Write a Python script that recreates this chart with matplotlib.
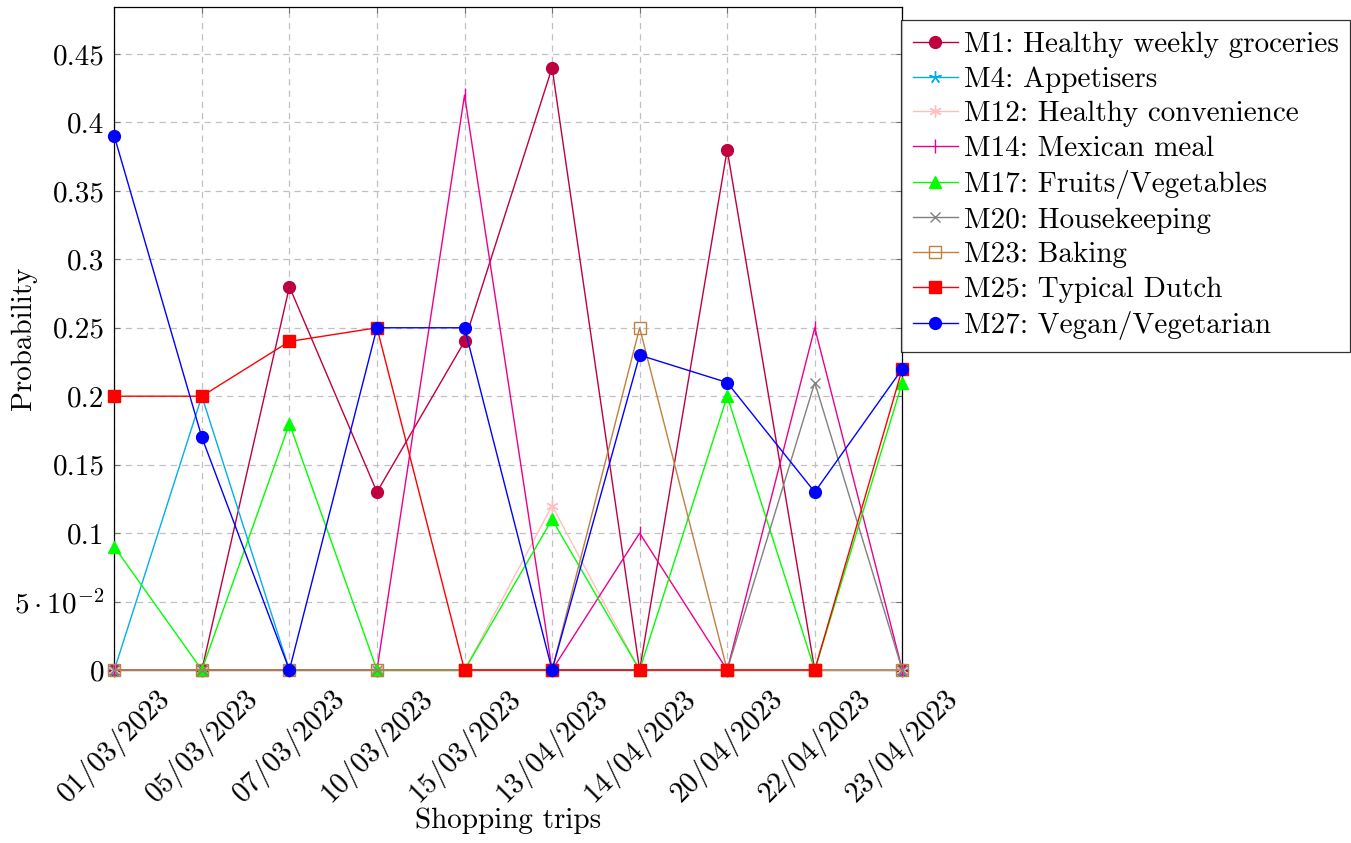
import matplotlib
matplotlib.use("Agg")
import matplotlib.pyplot as plt

plt.rcParams['font.family'] = ['cmr10', 'DejaVu Serif']
plt.rcParams['mathtext.fontset'] = 'cm'
plt.rcParams['axes.unicode_minus'] = False
plt.rcParams['axes.formatter.use_mathtext'] = True

dates = ["01/03/2023", "05/03/2023", "07/03/2023", "10/03/2023", "15/03/2023",
         "13/04/2023", "14/04/2023", "20/04/2023", "22/04/2023", "23/04/2023"]

m1 = [0, 0, 0.28, 0.13, 0.24, 0.44, 0, 0.38, 0, 0]
m4 = [0, 0.20, 0, 0, 0, 0, 0, 0, 0, 0]
m12 = [0, 0, 0, 0, 0, 0.12, 0, 0, 0, 0]
m14 = [0, 0, 0, 0, 0.42, 0, 0.10, 0, 0.25, 0]
m17 = [0.09, 0, 0.18, 0, 0, 0.11, 0, 0.20, 0, 0.21]
m20 = [0, 0, 0, 0, 0, 0, 0, 0, 0.21, 0]
m23 = [0, 0, 0, 0, 0, 0, 0.25, 0, 0, 0]
m25 = [0.20, 0.20, 0.24, 0.25, 0, 0, 0, 0, 0, 0.22]
m27 = [0.39, 0.17, 0, 0.25, 0.25, 0, 0.23, 0.21, 0.13, 0.22]

labels = ["M1: Healthy weekly groceries", "M4: Appetisers", "M12: Healthy convenience",
          "M14: Mexican meal", "M17: Fruits/Vegetables", "M20: Housekeeping",
          "M23: Baking", "M25: Typical Dutch", "M27: Vegan/Vegetarian"]
series = [m1, m4, m12, m14, m17, m20, m23, m25, m27]

ytick_vals = [0, 0.05, 0.1, 0.15, 0.2, 0.25, 0.3, 0.35, 0.4, 0.45]
ytick_labels = ["0", r"$5\cdot10^{-2}$", "0.1", "0.15", "0.2", "0.25", "0.3", "0.35", "0.4", "0.45"]

styles = [
    dict(color='#BF0040', marker='o', ms=8.5, mfc='#BF0040', mec='#BF0040'),
    dict(color='#00AEEF', marker=(5, 2, 0), ms=9, mec='#00AEEF'),
    dict(color='#FFBFBF', marker=(6, 2, 0), ms=9, mec='#FFBFBF'),
    dict(color='#EC008C', marker='|', ms=10, mec='#EC008C'),
    dict(color='#00FF00', marker='^', ms=8.5, mfc='#00FF00', mec='#00FF00'),
    dict(color='#808080', marker='x', ms=7, mec='#808080'),
    dict(color='#BF8040', marker='s', ms=8, mfc='none', mec='#BF8040'),
    dict(color='#FF0000', marker='s', ms=8.5, mfc='#FF0000', mec='#FF0000'),
    dict(color='#0000FF', marker='o', ms=8.5, mfc='#0000FF', mec='#0000FF'),
]

FS = 21

fig = plt.figure(figsize=(13.51, 8.43), dpi=100)
L, R, T, B = 114.3, 902.3, 7.3, 670.0
ax = fig.add_axes([L / 1351, 1 - B / 843, (R - L) / 1351, (B - T) / 843])

x = list(range(len(dates)))
handles = []
for s, lab, st in zip(series, labels, styles):
    h, = ax.plot(x, s, lw=1.0, label=lab, clip_on=False, mew=1.0, zorder=3, **st)
    handles.append(h)

ax.set_xlim(0, len(dates) - 1)
ax.set_ylim(0, 0.4841)
ax.set_xticks(x)
ax.set_xticklabels(dates, rotation=45, ha='center', va='top', fontsize=FS)
ax.set_yticks(ytick_vals)
ax.set_yticklabels(ytick_labels, fontsize=FS)
ax.tick_params(axis='both', direction='in', length=4, width=0.8, color='#707070',
               top=True, right=True)
ax.tick_params(axis='x', pad=10)
ax.tick_params(axis='y', pad=7)
ax.grid(True, color='#C0C0C0', linestyle=(0, (5, 4)), linewidth=0.9)
ax.set_axisbelow(True)
for sp in ax.spines.values():
    sp.set_linewidth(0.9)

ax.set_xlabel("Shopping trips", fontsize=FS, labelpad=0)
ax.set_ylabel("Probability", fontsize=FS)
ax.yaxis.set_label_coords((37 - L) / (R - L), 0.5)

leg = fig.legend(handles=handles, loc='upper left',
                 bbox_to_anchor=(901 / 1351, 1 - 20 / 843), borderaxespad=0,
                 fontsize=FS, frameon=True, fancybox=False, edgecolor='black',
                 handlelength=1.55, handletextpad=0.2, labelspacing=0.28,
                 borderpad=0.4)
leg.get_frame().set_linewidth(0.9)

fig.savefig("out.png", dpi=100)
